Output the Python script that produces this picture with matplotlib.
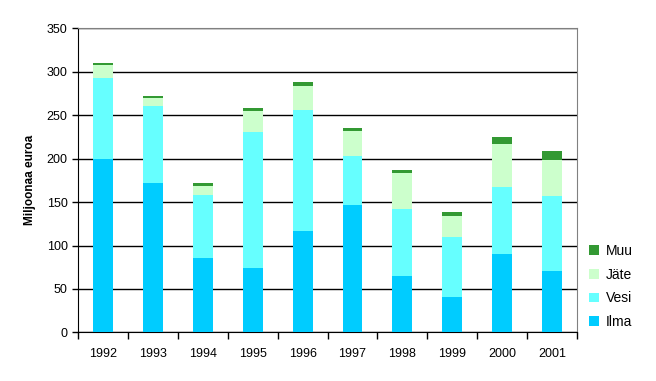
import numpy as np
import matplotlib
matplotlib.use('Agg')
import matplotlib.pyplot as plt

plt.rcParams['font.family'] = ['Liberation Sans', 'DejaVu Sans']

# data (million euro)
years = ['1992', '1993', '1994', '1995', '1996', '1997', '1998', '1999', '2000', '2001']
ilma = [199, 171.5, 86, 74.5, 117, 146, 65.5, 41, 90, 71]
vesi = [93.5, 89, 72, 156, 139, 56.5, 76, 68.5, 77, 85.5]
jate = [15, 9, 10.5, 24, 27.5, 29, 42, 24, 50, 42]
muu = [2.5, 2.3, 3.3, 3.5, 5, 3.5, 3.5, 5.5, 7.7, 10.4]

series = [('Ilma', ilma, '#00CCFF'), ('Vesi', vesi, '#66FFFF'),
          ('Jäte', jate, '#CCFFCC'), ('Muu', muu, '#339933')]

fig = plt.figure(figsize=(6.56, 3.81), dpi=100)
ax = fig.add_axes([0.119, 0.1273, 0.7606, 0.7992])

x = np.arange(len(years))
bottom = np.zeros(len(years))
handles = []
for name, vals, col in series:
    b = ax.bar(x, vals, 0.4, bottom=bottom, color=col, label=name, zorder=3)
    handles.append(b)
    bottom += np.array(vals)

ax.set_xlim(-0.5, len(years) - 0.5)
ax.set_ylim(0, 350)
ax.set_yticks(range(0, 351, 50))
ax.yaxis.grid(True, color='black', linewidth=1, zorder=0)
ax.set_xticks(x)
ax.set_xticklabels(years)
ax.set_xticks(np.arange(-0.5, len(years)), minor=True)
ax.tick_params(axis='x', which='major', length=0, labelsize=9, pad=11)
ax.tick_params(axis='x', which='minor', length=5, direction='out', width=1)
ax.tick_params(axis='y', length=4, direction='out', labelsize=9, width=1)

for side in ['left', 'bottom']:
    ax.spines[side].set_color('black')
for side in ['top', 'right']:
    ax.spines[side].set_color('#808080')

ax.set_ylabel('Miljoonaa euroa', fontsize=8.5, fontweight='bold', labelpad=8)

leg = fig.legend(handles[::-1], [s[0] for s in series][::-1],
                 loc='center left', bbox_to_anchor=(0.879, 0.248),
                 frameon=False, fontsize=10, handlelength=0.7, handleheight=0.7,
                 handletextpad=0.5, labelspacing=0.7)

fig.savefig('out.png', dpi=100)
